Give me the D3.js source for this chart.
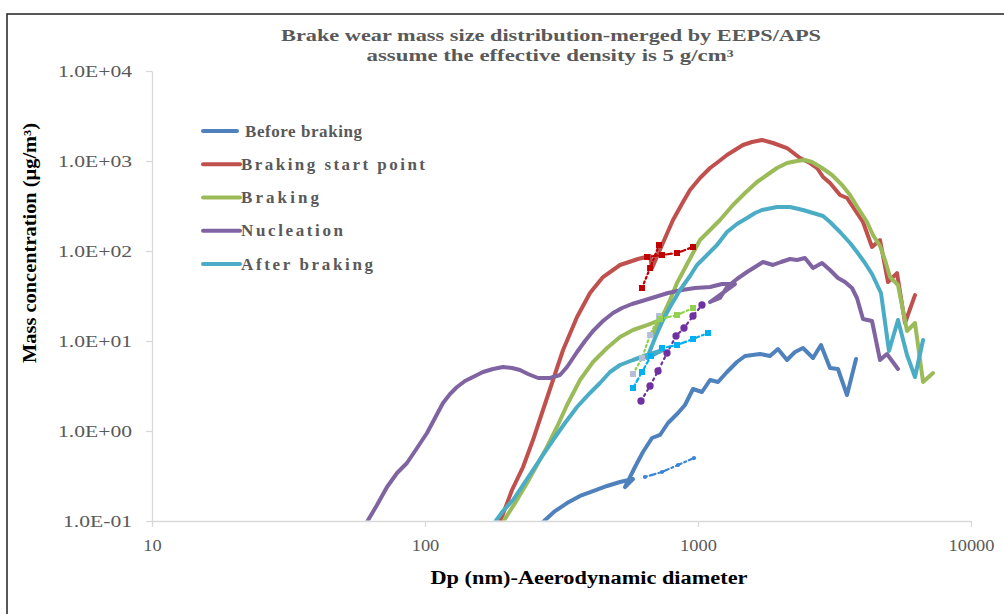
<!DOCTYPE html>
<html>
<head>
<meta charset="utf-8">
<script src="https://cdn.jsdelivr.net/npm/d3@7"></script>
<style>
  body { margin: 0; background: #fff; }
  svg { display: block; }
</style>
</head>
<body>
<svg id="chart" width="1004" height="614"></svg>
<script>
// ---- Data: [aerodynamic diameter (nm), mass concentration (ug/m3)] ----
const beforeBraking = [
  [270.5, 0.0975], [299.4, 0.129], [331.3, 0.158], [369.7, 0.190], [412.5, 0.215],
  [464.2, 0.245], [518, 0.271], [578, 0.293],
  [540.2, 0.2385], [587.8, 0.398], [628.7, 0.584], [678.6, 0.836], [725.8, 0.903],
  [776.4, 1.227], [844.8, 1.585], [896.1, 1.945], [958.7, 2.929], [1034, 2.712],
  [1107, 3.687], [1184, 3.504], [1277, 4.524], [1389, 5.843], [1487, 6.813],
  [1687, 7.171], [1835, 6.813], [1963, 8.149], [2118, 6.151], [2266, 7.546],
  [2424, 8.36], [2638, 6.473], [2821, 9.028], [3045, 5.012], [3256, 4.886],
  [3514, 2.512], [3792, 6.31]
];
const brakingStart = [
  [188.2, 0.0975], [208.3, 0.221], [228.6, 0.398], [248.6, 0.794], [270.5, 1.711],
  [294.4, 3.687], [320.4, 7.943], [360.5, 18.48], [402.2, 34.15], [448.7, 51.4],
  [518, 69.9], [603, 81.5], [667.4, 88.0],
  [678.6, 64.7], [738.2, 116.6], [809.8, 221], [881.3, 350.4], [934.8, 476],
  [1017, 647.3], [1107, 835.8], [1184, 974.7], [1277, 1166], [1366, 1325],
  [1461, 1506], [1577, 1626], [1716, 1711], [1883, 1585], [2118, 1394],
  [2364, 1080], [2572, 950], [2729, 835.8], [2871, 664], [3045, 569.6],
  [3313, 419], [3514, 388], [3823, 264.3], [4021, 210], [4339, 110.8],
  [4642, 132.5], [4966, 45.2], [5358, 56.9], [5731, 15.85], [6235, 32.4]
];
const braking = [
  [193.1, 0.0975], [213.6, 0.158], [236.4, 0.2644], [257.2, 0.419], [279.8, 0.664],
  [304.4, 1.108], [331.3, 1.945], [369.7, 3.687], [412.5, 5.843], [464.2, 8.36],
  [518, 11.08], [578, 13.25], [650.7, 15.05], [725.8, 17.11],
  [678.6, 11.66], [744.5, 19.45], [789.7, 28.54], [837.8, 44.1], [896.1, 64.7],
  [958.7, 95.0], [1017, 132.5], [1107, 171.1], [1204, 221], [1343, 324.4],
  [1487, 441], [1645, 584.4], [1789, 698.8], [1947, 835.8], [2118, 950],
  [2305, 1000], [2465, 1026], [2616, 974.7], [2846, 835.8], [3097, 698.8],
  [3370, 541.2], [3605, 419], [3856, 300.5], [4159, 210], [4375, 150.6],
  [4642, 113.6], [4842, 79.4], [5050, 51.4], [5402, 41.9], [5830, 12.92],
  [6235, 15.85], [6674, 3.504], [7259, 4.41]
];
const nucleation = [
  [61.3, 0.0975], [66.7, 0.1506], [72.6, 0.2385], [79.0, 0.3415], [85.9, 0.441],
  [93.5, 0.6474], [101.7, 0.950], [108.8, 1.395], [116.4, 2.047], [123.5, 2.577],
  [131.0, 3.083], [140.1, 3.594], [149.9, 3.981], [163.1, 4.524], [177.5, 4.886],
  [193.1, 5.141], [208.3, 5.012], [222.8, 4.762], [238.4, 4.299], [259.4, 3.881],
  [287.1, 3.881], [312.3, 4.19], [331.3, 5.141], [360.5, 7.546], [385.6, 10.0],
  [412.5, 12.92], [448.7, 16.68], [488.3, 20.47], [526.8, 23.26], [573.2, 25.77],
  [623.6, 27.83], [695.9, 30.83], [776.4, 34.15], [873.8, 36.87], [975, 38.8],
  [1107, 39.81], [1224, 42.98], [1366, 42.98],
  [1107, 27.12], [1204, 30.04], [1277, 39.81], [1389, 48.86], [1512, 58.43],
  [1618, 66.4], [1730, 75.47], [1883, 69.9], [2014, 75.47], [2173, 81.5],
  [2305, 79.4], [2465, 83.6], [2638, 64.7], [2846, 73.6], [3045, 61.5],
  [3256, 50.1], [3455, 45.2], [3665, 38.8], [3823, 30.04], [4021, 17.56],
  [4339, 16.68], [4642, 6.151], [4922, 7.171], [5402, 4.886]
];
const afterBraking = [
  [180.5, 0.0975], [193.1, 0.129], [210.1, 0.1711], [228.6, 0.2512], [248.6, 0.3687],
  [270.5, 0.5412], [294.4, 0.794], [325.7, 1.227], [360.5, 1.848], [402.2, 2.645],
  [437.5, 3.415], [476.1, 4.524], [518, 5.412], [578, 6.151], [650.7, 6.99], [744.5, 7.943],
  [650.7, 6.473], [695.9, 10.8], [744.5, 17.11], [789.7, 23.86], [859.3, 36.87],
  [934.8, 52.75], [991.5, 69.9], [1079, 90.3], [1174, 116.6], [1277, 162.6],
  [1389, 199.5], [1512, 232.6], [1618, 264.3], [1716, 285.4], [1947, 308.2],
  [2173, 308.2], [2424, 285.4], [2638, 264.3], [2871, 244.8], [3045, 210],
  [3313, 162.6], [3605, 122.7], [3823, 97.5], [4089, 73.6], [4339, 55.5],
  [4681, 34.15], [5007, 7.743], [5402, 17.11], [5830, 6.99], [6235, 3.981], [6674, 10.26]
];

// Overlap-region connecting segments (EEPS / APS junction)
const startSteep = [[623.6, 38.8], [667.4, 64.7], [719.7, 116.6]];
const startFlat = [[650.7, 85.8], [738.2, 90.3], [837.8, 95.0], [958.7, 110.8]];
const brakingSteep = [[578, 4.299], [623.6, 6.473], [667.4, 11.66], [719.7, 18.95]];
const brakingFlat = [[725.8, 17.56], [837.8, 19.45], [958.7, 23.26]];
const nucleationLink = [[618.3, 2.154], [667.4, 3.162], [713.7, 4.642], [769.9, 7.356],
  [830.7, 11.36], [888.6, 13.95], [958.7, 18.95], [1034, 25.12]];
const afterSteep = [[578, 3.005], [623.6, 4.524], [672.5, 6.813]];
const afterFlat = [[738.2, 8.36], [837.8, 9.028], [958.7, 10.52], [1088, 12.27]];
const beforeLink = [[639.4, 0.3083], [738.2, 0.3503], [844.8, 0.419], [966.8, 0.501]];

const seriesNames = ["Before braking", "Braking start point", "Braking", "Nucleation", "After braking"];
const seriesColors = ["#4f81bd", "#c0504d", "#9bbb59", "#8064a2", "#4bacc6"];
const seriesData = [beforeBraking, brakingStart, braking, nucleation, afterBraking];

const xTicks = [10, 100, 1000, 10000];
const xTickLabels = ["10", "100", "1000", "10000"];
const yTicks = [0.1, 1, 10, 100, 1000, 10000];
const yTickLabels = ["1.0E-01", "1.0E+00", "1.0E+01", "1.0E+02", "1.0E+03", "1.0E+04"];

const titleLines = ["Brake wear mass size distribution-merged by EEPS/APS",
                    "assume the effective density is 5 g/cm\u00b3"];
const xTitle = "Dp (nm)-Aeerodynamic diameter";
const yTitle = "Mass concentration (\u03bcg/m\u00b3)";

// ---- Drawing ----
const svg = d3.select("#chart");
const serif = "'Liberation Serif', 'Times New Roman', serif";
const x = d3.scaleLog().domain([10, 10000]).range([152, 971]);
const y = d3.scaleLog().domain([0.1, 10000]).range([521, 71]);

// rendered widths of the legend labels (spaced-out legend typography)
const legendTextWidths = [117, 184, 78, 102, 132];

function stretchTo(sel, width) {
  sel.attr("textLength", width).attr("lengthAdjust", "spacingAndGlyphs");
}
function stretchBy(sel, k) {
  sel.each(function () {
    const w = this.getComputedTextLength();
    d3.select(this).attr("textLength", w * k).attr("lengthAdjust", "spacingAndGlyphs");
  });
}

// outer frame
svg.append("path")
  .attr("d", "M7,614V14H1004")
  .attr("fill", "none").attr("stroke", "#222").attr("stroke-width", 1.5);

// axes
const yAxis = svg.append("g").attr("transform", "translate(152,0)")
  .call(d3.axisLeft(y).tickValues(yTicks).tickFormat((d, i) => yTickLabels[i])
    .tickSize(6).tickSizeOuter(0).tickPadding(14));
const xAxis = svg.append("g").attr("transform", "translate(0,521)")
  .call(d3.axisBottom(x).tickValues(xTicks).tickFormat((d, i) => xTickLabels[i])
    .tickSize(6).tickSizeOuter(0).tickPadding(13));
[yAxis, xAxis].forEach(g => {
  g.select(".domain").attr("stroke", "#d9d9d9").attr("stroke-width", 1.3);
  g.selectAll(".tick line").attr("stroke", "#d9d9d9").attr("stroke-width", 1.3);
  g.selectAll(".tick text")
    .attr("font-family", serif).attr("font-size", 16).attr("fill", "#595959");
});
stretchBy(yAxis.selectAll(".tick text"), 1.35);
stretchBy(xAxis.selectAll(".tick text"), 1.15);

// clip region for the plotted lines
svg.append("clipPath").attr("id", "plot-clip")
  .append("rect").attr("x", x(10)).attr("y", y(10000) - 10)
  .attr("width", x(10000) - x(10) + 10).attr("height", y(0.1) - y(10000) + 9.5);

const line = d3.line().x(d => x(d[0])).y(d => y(d[1]));
const plot = svg.append("g").attr("clip-path", "url(#plot-clip)");

seriesData.forEach((data, i) => {
  plot.append("path").datum(data)
    .attr("d", line)
    .attr("fill", "none")
    .attr("stroke", seriesColors[i])
    .attr("stroke-width", 4)
    .attr("stroke-linejoin", "round")
    .attr("stroke-linecap", "round");
});

// dotted junction segments with markers
function linkSeries(data, color, dash, shape, markerFill, size) {
  const g = svg.append("g");
  g.append("path").datum(data)
    .attr("d", line).attr("fill", "none")
    .attr("stroke", color).attr("stroke-width", 2.2)
    .attr("stroke-dasharray", dash).attr("stroke-linecap", "round");
  g.selectAll("path.mk").data(data).enter().append("path")
    .attr("class", "mk")
    .attr("transform", d => `translate(${x(d[0])},${y(d[1])})`)
    .attr("d", d3.symbol().type(shape).size(size))
    .attr("fill", markerFill);
}
linkSeries(startSteep, "#c00000", "2,3", d3.symbolSquare, "#c00000", 36);
linkSeries(startFlat, "#c00000", "2,3,6,3", d3.symbolSquare, "#c00000", 36);
linkSeries(brakingSteep, "#92d050", "2,3", d3.symbolSquare, "#b7bfd6", 36);
linkSeries(brakingFlat, "#92d050", "2,3,6,3", d3.symbolSquare, "#92d050", 36);
linkSeries(nucleationLink, "#7030a0", "2,4", d3.symbolCircle, "#7030a0", 42);
linkSeries(afterSteep, "#00b0f0", "4,3", d3.symbolSquare, "#00b0f0", 36);
linkSeries(afterFlat, "#00b0f0", "2,3,6,3", d3.symbolSquare, "#00b0f0", 36);
linkSeries(beforeLink, "#3a86d4", "2,3,6,3", d3.symbolCircle, "#3a86d4", 14);

// legend
const legend = svg.append("g");
const legendRows = seriesNames.map((name, i) => ({ name, color: seriesColors[i], i }));
const lg = legend.selectAll("g").data(legendRows).enter().append("g")
  .attr("transform", d => `translate(203,${131 + d.i * 33.25})`);
lg.append("line")
  .attr("x1", 0).attr("x2", d => d.i === 0 ? 34 : 37)
  .attr("stroke", d => d.color).attr("stroke-width", 4).attr("stroke-linecap", "round");
lg.append("text")
  .attr("x", d => d.i === 0 ? 42 : 38).attr("y", 5.5)
  .attr("font-family", serif).attr("font-size", 17).attr("font-weight", "bold")
  .attr("fill", "#595959")
  .text(d => d.name)
  .attr("textLength", d => legendTextWidths[d.i])
  .attr("lengthAdjust", "spacing");

// titles
const title = svg.append("g").attr("font-family", serif).attr("font-weight", "bold")
  .attr("font-size", 16).attr("fill", "#595959").attr("text-anchor", "middle");
title.append("text").attr("x", 551).attr("y", 41).text(titleLines[0]).call(stretchTo, 540);
title.append("text").attr("x", 550).attr("y", 61).text(titleLines[1]).call(stretchTo, 367);

svg.append("text").attr("x", 589).attr("y", 584)
  .attr("text-anchor", "middle").attr("font-family", serif).attr("font-weight", "bold")
  .attr("font-size", 18).attr("fill", "#000").text(xTitle).call(stretchTo, 317);

svg.append("text").attr("transform", "translate(36,243) rotate(-90)")
  .attr("text-anchor", "middle").attr("font-family", serif).attr("font-weight", "bold")
  .attr("font-size", 18).attr("fill", "#000").text(yTitle).call(stretchTo, 240);
</script>
</body>
</html>
